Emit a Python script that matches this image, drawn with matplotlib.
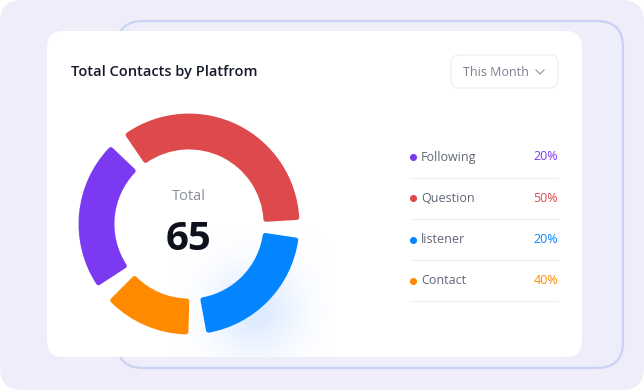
import numpy as np
import matplotlib.pyplot as plt
from matplotlib.patches import FancyBboxPatch

# chart data
labels = ["Following", "Question", "listener", "Contact"]
values = [16, 24, 15, 10]
percents = ["20%", "50%", "20%", "40%"]
colors = ["#7B3AF2", "#DE4A4C", "#0385FF", "#FF8A00"]
total = 65
title = "Total Contacts by Platfrom"
period = "This Month"

plt.rcParams['font.family'] = ['Open Sans', 'DejaVu Sans']

W, H = 644, 390
def Y(y):
	# image rows -> axis units (pixels, origin bottom-left)
	return H - y

fig = plt.figure(figsize=(W / 100, H / 100), dpi=100)
fig.patch.set_facecolor("white")
ax = fig.add_axes([0, 0, 1, 1])
ax.set_axis_off()

def rbox(x0, y0, x1, y1, r, fc, ec="none", lw=0, z=0):
	p = FancyBboxPatch((x0, Y(y1)), x1 - x0, y1 - y0,
		boxstyle=f"round,pad=0,rounding_size={r}", fc=fc, ec=ec, lw=lw, zorder=z)
	ax.add_patch(p)
	return p

# backgrounds
rbox(0, 0, W, H, 22, "#EFEDFA", z=0)
rbox(117, 21, 623, 368, 26, "#EEEDFA", ec="#C9D2F3", lw=1.6, z=1)
card = rbox(47, 31, 582, 357, 16, "white", z=2)

# soft glow under the blue arc
g = np.linspace(-1, 1, 300)
gx, gy = np.meshgrid(g, g)
img = np.zeros((300, 300, 4))
img[..., 0], img[..., 1], img[..., 2] = 0.78, 0.87, 1.0
img[..., 3] = 0.6 * np.exp(-((gx ** 2 + gy ** 2) / 0.3))
glow = ax.imshow(img, extent=(175, 335, Y(390), Y(230)), zorder=3, interpolation="bilinear")
glow.set_clip_path(card)

# donut
cx, cy = 189, 224
wedges, _ = ax.pie(values, colors=colors, center=(cx, Y(cy)), radius=108,
	startangle=219, counterclock=False,
	wedgeprops=dict(width=31, linewidth=3.5, joinstyle="round"))
gap = 12
for w, c in zip(wedges, colors):
	w.set_edgecolor(c)
	w.set_zorder(4)
	w.set_theta1(w.theta1 + gap / 2)
	w.set_theta2(w.theta2 - gap / 2)

ax.text(cx, Y(197), "Total", ha="center", va="center", fontsize=10.5, color="#8A8F9C", zorder=5)
ax.text(cx, Y(240), str(total), ha="center", va="center", fontsize=29, fontweight="bold", color="#0D111C", zorder=5)

# header
ax.text(71, Y(72), title, ha="left", va="center", fontsize=10.5, fontweight="semibold", color="#151A28", zorder=5)
rbox(451, 55, 558, 88, 8, "white", ec="#EEF0F4", lw=1, z=4)
ax.text(463, Y(72.5), period, ha="left", va="center", fontsize=9, color="#7A808D", zorder=5)
ax.plot([536, 540, 544], [Y(70), Y(74), Y(70)], color="#9AA0AC", lw=0.9, zorder=5)

# legend
row0, step = 157, 41.3
for i, (lab, pct, c) in enumerate(zip(labels, percents, colors)):
	ry = row0 + i * step
	ax.scatter([413], [Y(ry)], s=26, color=c, zorder=5, linewidths=0)
	ax.text(421, Y(ry), lab, ha="left", va="center", fontsize=9, color="#5F6675", zorder=5)
	ax.text(558, Y(ry), pct, ha="right", va="center", fontsize=9, color=c, zorder=5)
	ax.plot([410, 558], [Y(ry + 20.5), Y(ry + 20.5)], color="#F0F1F5", lw=1, zorder=5)

ax.set_xlim(0, W)
ax.set_ylim(0, H)
ax.set_aspect("auto")

fig.savefig("out.png", dpi=100, facecolor="white")
